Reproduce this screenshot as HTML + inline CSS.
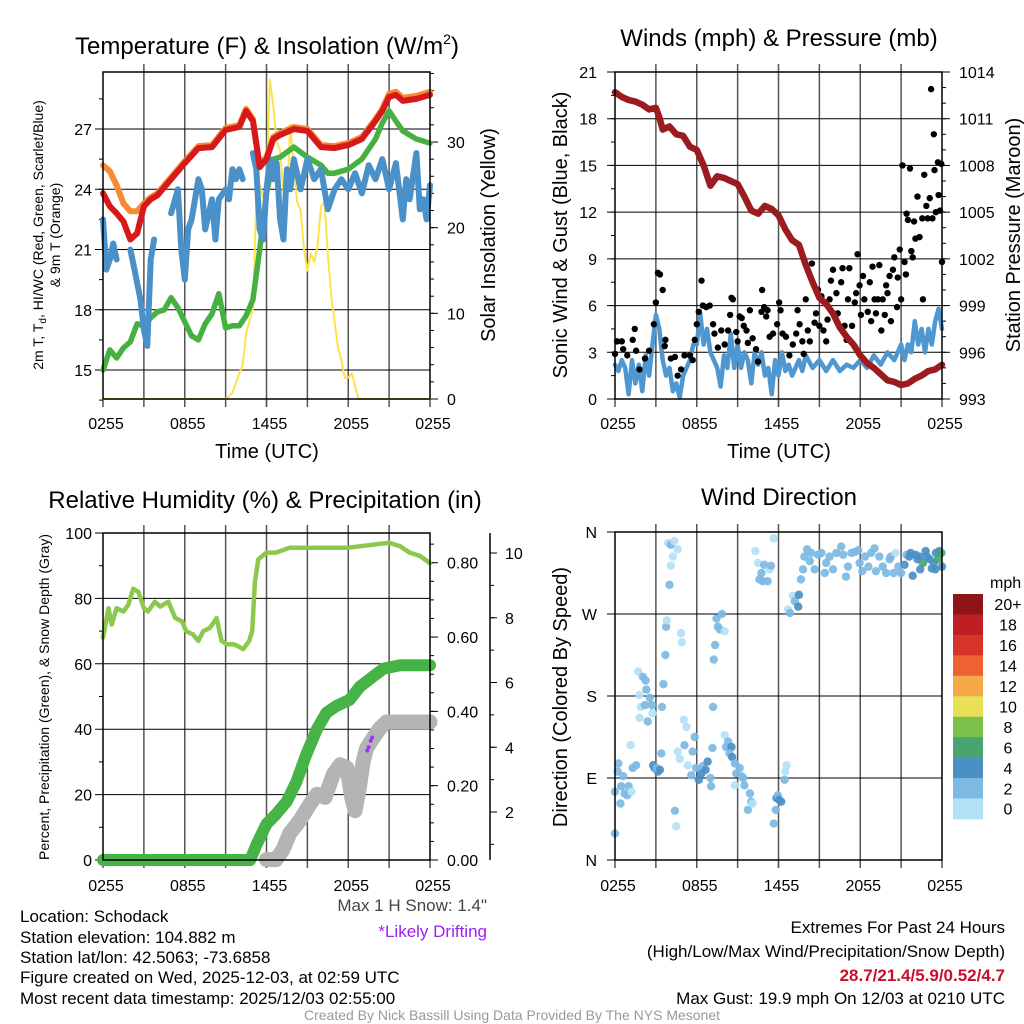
<!DOCTYPE html>
<html><head><meta charset="utf-8">
<style>
html,body{margin:0;padding:0;background:#fff;}
svg{display:block;font-family:"Liberation Sans",sans-serif;}
</style></head>
<body>
<svg id="chart" width="1024" height="1024" viewBox="0 0 1024 1024" xmlns="http://www.w3.org/2000/svg">
<rect x="0" y="0" width="1024" height="1024" fill="#fff"/>
<g id="layer"></g>
<text x="267" y="54" font-size="24" text-anchor="middle">Temperature (F) &amp; Insolation (W/m<tspan font-size="14" dy="-10">2</tspan><tspan dy="10">)</tspan></text>
<text x="779" y="46" font-size="24" text-anchor="middle">Winds (mph) &amp; Pressure (mb)</text>
<text x="265" y="508" font-size="24" text-anchor="middle">Relative Humidity (%) &amp; Precipitation (in)</text>
<text x="779" y="505" font-size="24" text-anchor="middle">Wind Direction</text>
<text x="267" y="458" font-size="20" text-anchor="middle">Time (UTC)</text>
<text x="779" y="458" font-size="20" text-anchor="middle">Time (UTC)</text>
<text transform="translate(43,235) rotate(-90)" font-size="14" text-anchor="middle">2m T, T<tspan font-size="10" dy="3">d</tspan><tspan dy="-3">, HI/WC (Red, Green, Scarlet/Blue)</tspan></text>
<text transform="translate(60,235) rotate(-90)" font-size="14" text-anchor="middle">&amp; 9m T (Orange)</text>
<text transform="translate(495,235) rotate(-90)" font-size="20" text-anchor="middle">Solar Insolation (Yellow)</text>
<text transform="translate(567,235) rotate(-90)" font-size="20" text-anchor="middle">Sonic Wind &amp; Gust (Blue, Black)</text>
<text transform="translate(1020,235) rotate(-90)" font-size="20" text-anchor="middle">Station Pressure (Maroon)</text>
<text transform="translate(49,697) rotate(-90)" font-size="14" text-anchor="middle">Percent, Precipitation (Green), &amp; Snow Depth (Gray)</text>
<text transform="translate(567,697) rotate(-90)" font-size="20" text-anchor="middle">Direction (Colored By Speed)</text>
<text x="487" y="911" font-size="17" fill="#444" text-anchor="end">Max 1 H Snow: 1.4"</text>
<text x="487" y="937" font-size="17" fill="#a020f0" text-anchor="end">*Likely Drifting</text>
<g font-size="17" fill="#000">
<text x="20" y="922">Location: Schodack</text>
<text x="20" y="943">Station elevation: 104.882 m</text>
<text x="20" y="963">Station lat/lon: 42.5063; -73.6858</text>
<text x="20" y="983">Figure created on Wed, 2025-12-03, at 02:59 UTC</text>
<text x="20" y="1004">Most recent data timestamp: 2025/12/03 02:55:00</text>
</g>
<g font-size="17" text-anchor="end">
<text x="1005" y="933">Extremes For Past 24 Hours</text>
<text x="1005" y="957">(High/Low/Max Wind/Precipitation/Snow Depth)</text>
<text x="1005" y="981" fill="#c8102e" font-weight="bold">28.7/21.4/5.9/0.52/4.7</text>
<text x="1005" y="1004">Max Gust: 19.9 mph On 12/03 at 0210 UTC</text>
</g>
<text x="512" y="1020" font-size="14" fill="#999" text-anchor="middle">Created By Nick Bassill Using Data Provided By The NYS Mesonet</text>
</svg>
<script>
// ---------- DATA (hours since 0255 UTC) ----------
const timeLabels = ["0255","0855","1455","2055","0255"];
const tempHours = [0,0.5,1,1.5,2,2.5,3,3.5,4,5,6,7,8,9,10,10.5,11,11.5,12,12.5,13,14,15,16,17,18,19,20,20.5,21,21.5,22,23,24];
const tempRed   = [23.8,23.15,22.8,22.4,21.5,21.8,23.15,23.5,23.7,24.5,25.3,26.05,26.1,26.95,27.1,27.9,27.4,25.1,25.5,26.5,26.7,27.0,26.9,26.1,26.05,26.2,26.5,27.4,27.9,28.6,28.7,28.4,28.5,28.7];
const temp9mHours = [0,0.5,1,1.5,2,2.5,3,3.5,4,5,6,7,8,9,10,10.5,11,11.5,12,12.5,13,14,15,16,17,18,19,20,20.5,21,21.5,22,23,24];
const temp9m    = [25.2,24.9,24.2,23.3,22.9,22.9,23.3,23.6,23.8,24.6,25.4,26.15,26.2,27.05,27.2,28.0,27.5,25.2,25.6,26.6,26.8,27.1,27.0,26.2,26.15,26.3,26.6,27.5,28.0,28.75,28.85,28.55,28.65,28.85];
const dewHours = [0,0.5,1,1.5,2,2.5,3,3.5,4,4.5,5,5.5,6,6.5,7,7.5,8,8.5,9,9.5,10,10.5,11,11.5,12,12.5,13,14,15,16,16.5,17,18,19,20,20.5,21,21.5,22,23,24];
const dewValues = [15.0,16.0,15.6,16.1,16.4,17.3,17.2,17.6,17.9,18.0,18.6,18.1,17.4,16.7,16.5,17.3,17.8,18.8,17.1,17.2,17.2,17.7,18.5,21.0,23.8,25.5,25.6,26.1,25.6,25.2,24.8,24.8,25.0,25.5,26.5,27.3,27.9,27.4,26.9,26.5,26.3];
const chillHours = [0,0.25,0.5,0.75,1,1.5,2,2.25,2.75,3,3.25,3.5,3.75,5,5.5,5.75,6,6.25,6.5,7,7.25,7.5,8,8.25,8.5,9,9.25,9.5,9.75,10,10.25,11,11.25,11.5,11.75,12,12.25,12.5,12.75,13,13.25,13.5,13.75,14,14.5,15,15.5,16,16.5,17,17.5,18,18.5,19,19.5,20,20.5,21,21.5,22,22.25,22.5,23,23.25,23.5,23.75,24];
const chillValues = [22.5,20,20.5,21.3,20.5,19.3,21,20.2,18.5,17,16.2,20.5,21.5,22.8,24,21,19.5,22,22.5,24.5,24,22,23.5,21.5,23.5,24,23.5,25,24.5,25,24.5,25.8,25,22,21.5,24,25.5,24.5,25.3,22.5,21.5,25,24,25.5,24,25.5,24.5,25,23,24,24.5,24,24.8,23.8,25.2,24.5,25.5,24,25.3,22.5,24.5,23.5,25.8,23,23.5,22.5,24.2];
const chillGaps = [1.25,1.75,4.5,10.5];
const solarHours = [0,9,9.5,10,10.25,10.5,11,11.25,11.5,11.75,12,12.25,12.5,12.75,13,13.25,13.5,13.75,14,14.25,14.5,14.75,15,15.25,15.5,15.75,16,16.25,16.5,16.75,17,17.25,17.5,17.75,18,18.25,18.5,18.75,24];
const solarValues = [0,0,0.7,3,4,7.7,10.5,23.3,25,23.5,25,37.3,34.2,30,29,24,23,32,27,23,22,17.5,15,17,16,18,22.5,23,17,12,9,6,4.5,2.5,2.5,3,1.5,0,0];

const presHours = [0,0.5,1,1.5,2,2.5,3,3.25,3.5,4,4.5,5,5.5,6,6.5,7,7.5,8,8.5,9,9.5,10,10.5,11,11.5,12,12.5,13,13.5,14,14.5,15,15.5,16,16.5,17,17.5,18,18.5,19,19.5,20,20.5,21,21.5,22,22.5,23,23.5,24];
const presValues = [1012.7,1012.4,1012.2,1012.1,1011.9,1011.6,1011.7,1011.1,1010.3,1010.5,1010.0,1009.9,1009.2,1009.0,1008.0,1006.7,1007.3,1007.2,1007.0,1006.8,1006.0,1005.1,1004.9,1005.4,1005.2,1004.8,1003.9,1003.2,1002.9,1001.6,1000.5,999.5,999.1,998.5,997.6,997.0,996.5,995.8,995.3,995.0,994.6,994.2,994.1,993.9,994.0,994.3,994.5,994.8,994.9,995.2];
const windHours = [0,0.25,0.5,0.75,1,1.25,1.5,1.75,2,2.25,2.5,2.75,3,3.25,3.5,3.75,4,4.25,4.5,4.75,5,5.25,5.5,5.75,6,6.25,6.5,6.75,7,7.25,7.5,7.75,8,8.25,8.5,8.75,9,9.25,9.5,9.75,10,10.25,10.5,10.75,11,11.25,11.5,11.75,12,12.25,12.5,12.75,13,13.25,13.5,13.75,14,14.5,15,15.5,16,16.5,17,17.5,18,18.5,19,19.5,20,20.5,21,21.25,21.5,21.75,22,22.25,22.5,22.75,23,23.25,23.5,23.75,24];
const windValues = [2.2,1.8,2.5,2.0,0.3,2.5,1.0,2.2,0.5,2.8,1.5,3.5,5.4,4.5,2.5,1.5,2.0,0.5,1.0,0.1,1.5,2.0,2.5,3.5,3.5,5.5,3.5,4.5,3.0,2.5,2.0,0.8,2.8,2.0,4.2,2.0,3.5,2.0,3.0,2.5,1.0,3.0,2.2,3.0,1.5,2.0,0.3,2.5,1.5,3.0,1.8,2.2,1.5,2.0,2.5,1.8,2.8,2.0,2.5,1.8,2.5,1.8,2.2,2.0,2.5,2.0,2.8,2.2,3.0,2.5,3.5,2.5,3.5,3.0,5.0,3.5,4.5,3.0,4.5,3.5,5.0,5.8,4.5];
const gustHours = [0,0.15,0.5,0.6,0.9,1.45,1.3,1.55,1.8,2.2,2.5,2.85,3.0,3.15,3.3,3.5,3.7,3.65,4.1,4.4,4.6,4.85,5.1,5.5,5.7,5.85,6.0,6.15,6.35,6.45,6.7,6.95,7.2,7.3,7.55,7.8,8.05,8.3,8.45,8.55,8.65,8.9,9.0,9.15,9.3,9.45,9.65,9.75,9.9,10.1,10.35,10.5,10.75,10.8,10.95,11.1,11.2,11.35,11.6,11.9,12.05,12.15,12.3,12.55,12.8,13.05,13.3,13.4,13.55,13.75,13.85,14.0,14.15,14.3,14.45,14.65,14.75,14.9,15.0,15.15,15.3,15.5,15.6,15.75,15.85,16.0,16.25,16.35,16.6,16.7,16.85,17.0,17.1,17.2,17.4,17.6,17.7,17.8,17.95,18.05,18.2,18.3,18.55,18.7,18.8,18.9,19.05,19.15,19.3,19.4,19.55,19.65,19.8,19.9,20.0,20.15,20.25,20.4,20.5,20.7,20.75,20.9,21.0,21.1,21.25,21.35,21.4,21.5,21.65,21.75,21.85,21.95,22.05,22.2,22.35,22.55,22.6,22.7,22.85,22.95,23.1,23.2,23.3,23.4,23.45,23.55,23.7,23.75,23.85,23.95,24.0];
const gustValues = [2.9,3.7,3.7,3.2,2.8,4.5,3.8,3.1,1.9,2.6,3.1,4.8,6.2,8.1,8.0,7.0,3.8,3.4,2.6,2.7,1.5,1.9,2.8,2.8,2.5,3.8,4.8,5.6,7.6,6.0,5.9,6.0,4.8,4.2,3.3,4.4,3.5,4.4,5.4,6.5,6.4,4.3,3.7,5.3,5.2,4.7,4.4,3.6,5.7,3.9,3.2,2.4,5.6,7.0,5.9,5.3,5.7,4.0,4.2,4.8,6.2,5.7,4.2,4.0,2.8,3.5,4.2,5.7,4.8,3.7,2.9,6.4,4.4,3.7,8.7,4.9,5.5,7.0,4.7,6.6,4.4,3.7,5.1,6.4,7.6,8.3,6.8,5.5,7.5,8.4,4.7,3.8,6.4,8.4,4.7,6.2,6.8,9.3,7.3,5.4,7.9,6.4,5.6,7.5,5.0,8.5,6.4,5.5,6.4,8.6,4.4,6.4,5.4,7.3,6.8,7.9,5.0,8.3,9.1,5.9,7.8,9.6,6.4,15.0,8.8,8.0,11.9,11.5,14.8,9.5,9.1,11.4,10.3,13.0,10.4,11.6,6.4,14.4,12.4,11.6,12.9,19.9,11.6,17.0,14.7,12.0,15.2,13.1,12.1,15.1,8.8];

const rhHours = [0,0.4,0.64,1.0,1.5,1.86,2.22,2.6,3.0,3.3,3.8,4.2,4.8,5.3,5.8,6.1,6.6,7.0,7.36,7.85,8.34,8.7,9.07,9.56,9.85,10.3,10.73,10.95,11.15,11.4,12.0,12.7,13.7,15,16.9,18,20,21,21.8,22.5,23.25,24];
const rhValues = [68,77,72,77,76,78,83,82,77,76,79,77.5,79,74,73,70,69,67,70,71,74,67,66,66,65.5,64.5,67,70,85,92,94,94,95.5,95.5,95.5,95.5,96.5,97,96,94,93,90.8];
const precipHours = [0,10.8,11.3,12,12.7,13.5,14.2,14.9,15.7,16.4,17.1,18.1,18.85,19.8,20.6,21.8,24];
const precipValues = [0,0,0.044,0.097,0.123,0.158,0.211,0.282,0.352,0.396,0.414,0.431,0.466,0.493,0.515,0.524,0.524];
const snowHours = [12,12.7,13.2,13.7,14.45,15.2,15.7,16.3,16.9,17.4,17.9,18.25,18.5,18.85,19.1,19.35,19.8,20.3,20.8,24];
const snowValues = [0.53,0.53,0.83,1.34,1.74,2.25,2.55,2.45,3.16,3.46,3.36,2.45,2.04,2.85,3.56,3.97,4.27,4.57,4.78,4.78];
const driftHours = [19.4,19.5,19.65,19.75];
const driftValues = [3.9,4.0,4.2,4.3];

const dirHours = [0,0,0.25,0.2,0.6,0.45,0.7,0.4,1.0,0.9,1.15,1.3,1.55,1.2,1.7,1.8,2.05,2.25,2.3,1.9,1.8,2.2,2.4,2.55,2.75,2.7,2.8,2.9,3.15,3.05,3.3,3.4,3.45,3.55,3.7,3.75,3.8,3.9,4.1,4.35,4.6,4.25,4.1,4.0,4.4,4.5,4.85,4.9,4.6,4.75,5.05,5.25,5.1,5.35,5.6,5.7,5.85,5.95,6.15,6.35,6.45,6.65,6.8,7.0,7.05,7.15,7.2,7.25,7.35,7.45,7.55,7.7,7.85,8.05,8.05,8.15,8.3,8.55,8.4,8.6,8.8,8.9,9.15,9.3,9.5,8.8,9.4,9.9,10.0,9.75,10.1,10.3,10.5,10.75,10.6,10.85,10.95,11.2,11.35,11.45,11.65,11.85,11.95,12.05,12.2,11.8,11.65,12.45,12.5,12.6,12.7,12.85,13.05,13.2,13.45,13.5,13.65,13.8,13.9,14.1,14.3,14.4,14.65,14.9,15.15,15.4,15.5,15.75,16.0,16.25,16.6,16.75,16.95,17.1,17.35,17.6,17.85,17.95,18.15,18.35,18.6,18.8,19.05,19.15,19.4,19.65,19.9,20.15,20.25,20.45,20.6,20.8,21.0,21.25,21.4,21.6,21.85,22.05,22.2,22.4,22.6,22.8,22.9,23.1,23.25,23.4,23.55,23.7,23.8,23.95,24.0,23.5,22.35,21.7];
const dirValues = [29,75,106,97,92,81,73,62,81,71,126,101,104,75,207,181,201,197,187,168,156,170,152,178,161,170,104,101,97,101,99,117,168,193,225,256,263,348,346,350,341,333,323,302,54,37,249,239,119,111,154,146,126,104,93,119,135,101,88,95,103,99,108,90,81,123,168,220,236,265,256,253,270,251,137,124,130,124,117,113,106,95,101,92,82,82,90,73,64,55,62,339,326,315,308,306,324,306,319,323,353,68,71,66,64,55,40,88,97,104,275,271,290,284,278,291,308,319,333,341,328,337,319,335,337,315,326,333,319,337,344,335,311,322,337,338,340,326,317,333,322,337,342,317,333,322,315,330,333,315,337,322,315,324,335,333,312,335,330,319,326,339,333,330,320,326,337,330,339,337,322,319,333,337];
const dirSpeeds = [2,2,2,2,2,2,2,2,2,2,0,2,2,0,0,0,2,2,2,0,0,2,2,2,0,2,4,4,4,2,4,2,2,2,2,2,0,0,2,0,0,0,0,2,2,0,0,0,0,0,0,0,2,0,2,2,2,2,4,4,2,4,4,2,2,2,2,2,2,2,2,2,2,0,0,2,2,4,2,4,2,2,2,2,2,0,2,2,2,2,0,0,0,2,2,2,2,2,0,2,0,4,2,4,4,2,2,2,0,0,0,2,0,2,4,4,2,2,2,2,2,2,2,2,2,2,2,2,2,2,2,2,2,2,2,2,2,2,2,2,2,2,2,2,2,2,2,2,2,2,0,2,2,4,2,4,4,4,4,4,6,4,4,4,4,4,4,6,4,6,4,4,4,4,4,4,4];
const colorbarLabels = ["20+","18","16","14","12","10","8","6","4","2","0"];
const colorbarColors = ["#8e1418","#be1e24","#d8342a","#ee6130","#f5a947","#e8e057","#7cc04a","#4aa470","#4a8fc6","#7db9e3","#b3e1f5"];

// ---------- DRAWING ----------
const NS = "http://www.w3.org/2000/svg";
const layer = document.getElementById("layer");
function mk(tag, attrs, parent) {
  const el = document.createElementNS(NS, tag);
  for (const k in attrs) el.setAttribute(k, attrs[k]);
  (parent || layer).appendChild(el);
  return el;
}
function txt(s, x, y, size, anchor, parent) {
  const t = mk("text", {x: x, y: y, "font-size": size, "text-anchor": anchor}, parent);
  t.textContent = s;
  return t;
}
function xScale(x0, x1) { return h => x0 + h * (x1 - x0) / 24; }
function linScale(v0, p0, v1, p1) { return v => p0 + (v - v0) * (p1 - p0) / (v1 - v0); }

function frame(name, x0, x1, y0, y1, xs) {
  const g = mk("g", {});
  
  
  for (let h = 3; h < 24; h += 3) {
    mk("line", {x1: xs(h), x2: xs(h), y1: y0 - 8, y2: y1 + 8, stroke: "#555", "stroke-width": 1.5}, g);
  }
  for (let h = 0; h <= 24; h += 6) {
    mk("line", {x1: xs(h), x2: xs(h), y1: y1, y2: y1 + 8, stroke: "#555", "stroke-width": 1.5}, g);
  }
  return g;
}
function xLabels(name, xs, y) {
  const g = mk("g", {});
  
  
  for (let i = 0; i < timeLabels.length; i++) {
    txt(timeLabels[i], xs(i * 6) + 3, y, 16, "middle", g);
  }
}
function border(name, x0, x1, y0, y1) {
  const r = mk("rect", {x: x0, y: y0, width: x1 - x0, height: y1 - y0, fill: "none", stroke: "#000", "stroke-width": 1.5});
  
  
}
function hGrid(name, x0, x1, ys, vals, labels, lx, minorVals) {
  const g = mk("g", {});
  
  
  for (let i = 0; i < vals.length; i++) {
    const y = ys(vals[i]);
    mk("line", {x1: x0 - 8, x2: x1, y1: y, y2: y, stroke: "#000", "stroke-width": 1}, g);
    txt(labels[i], lx, y + 6, 16, "end", g);
  }
  (minorVals || []).forEach(v => mk("line", {x1: x0 - 4, x2: x0, y1: ys(v), y2: ys(v), stroke: "#000", "stroke-width": 1}, g));
}
function rightAxis(name, ax, ys, vals, labels, minorVals) {
  const g = mk("g", {});
  
  
  for (let i = 0; i < vals.length; i++) {
    const y = ys(vals[i]);
    mk("line", {x1: ax, x2: ax + 8, y1: y, y2: y, stroke: "#000", "stroke-width": 1}, g);
    txt(labels[i], ax + 17, y + 6, 16, "start", g);
  }
  minorVals.forEach(v => mk("line", {x1: ax, x2: ax + 4, y1: ys(v), y2: ys(v), stroke: "#000", "stroke-width": 1}, g));
  return g;
}
function pathFrom(hours, vals, xs, ys, gaps) {
  let d = "";
  let pen = false;
  for (let i = 0; i < hours.length; i++) {
    let brk = false;
    if (gaps && i > 0) gaps.forEach(gp => { if (hours[i - 1] < gp && hours[i] > gp) brk = true; });
    d += ((!pen || brk) ? "M" : "L") + xs(hours[i]).toFixed(1) + "," + ys(vals[i]).toFixed(1);
    pen = true;
  }
  return d;
}
function series(name, hours, vals, xs, ys, color, width, gaps, cap) {
  const p = mk("path", {d: pathFrom(hours, vals, xs, ys, gaps), fill: "none", stroke: color, "stroke-width": width, "stroke-linejoin": "round", "stroke-linecap": cap || "round"});
  
  
  return p;
}
function range(a, b, s) { const r = []; for (let v = a; v <= b + 1e-9; v += s) r.push(+v.toFixed(3)); return r; }

// ---- Panel 1: Temperature ----
const x1s = xScale(103, 430);
const yT = linScale(27, 129, 15, 370);
const yS = linScale(0, 399, 30, 142);
frame("temp", 103, 430, 72, 399, x1s);
hGrid("temp-left", 103, 430, yT, [15,18,21,24,27], ["15","18","21","24","27"], 92, range(13.5,29.5,1.5));
rightAxis("insolation-axis", 430, yS, [0,10,20,30], ["0","10","20","30"], range(0,38,2));
series("solar-insolation-line", solarHours, solarValues, x1s, yS, "#fde24b", 2);
series("dewpoint-line", dewHours, dewValues, x1s, yT, "#46b040", 5.5);
series("wind-chill-line", chillHours, chillValues, x1s, yT, "#4a90c9", 6, chillGaps);
series("temp-9m-line", temp9mHours, temp9m, x1s, yT, "#f68b33", 6);
series("temp-2m-line", tempHours, tempRed, x1s, yT, "#d7191c", 6);
border("temp", 103, 430, 72, 399);
xLabels("temp", x1s, 429);

// ---- Panel 2: Wind & Pressure ----
const x2s = xScale(615, 942);
const yW = linScale(0, 399, 21, 72);
const yP = linScale(993, 399, 1014, 72);
frame("wind", 615, 942, 72, 399, x2s);
hGrid("wind-left", 615, 942, yW, [0,3,6,9,12,15,18,21], ["0","3","6","9","12","15","18","21"], 597, range(0,21,1.5));
rightAxis("pressure-axis", 942, yP, [993,996,999,1002,1005,1008,1011,1014], ["993","996","999","1002","1005","1008","1011","1014"], range(993,1014,1));
series("sonic-wind-line", windHours, windValues, x2s, yW, "#4f97d1", 4.5);
const gustG = mk("g", {});


for (let i = 0; i < gustHours.length; i++) {
  const c = mk("circle", {cx: x2s(gustHours[i]), cy: yW(gustValues[i]), r: 3.2, fill: "#000"}, gustG);
  
  
}
series("pressure-line", presHours, presValues, x2s, yP, "#9b1b1f", 6.5);
border("wind", 615, 942, 72, 399);
xLabels("wind", x2s, 429);

// ---- Panel 3: RH & precip ----
const x3s = xScale(103, 430);
const yR = linScale(0, 860, 100, 533);
const yPr = linScale(0, 860, 0.88, 533);
const ySn = linScale(2, 812, 10, 553);
frame("rh", 103, 430, 533, 860, x3s);
hGrid("rh-left", 103, 430, yR, [0,20,40,60,80,100], ["0","20","40","60","80","100"], 92, range(10,90,20));
rightAxis("precip-axis", 430, yPr, [0,0.2,0.4,0.6,0.8], ["0.00","0.20","0.40","0.60","0.80"], range(0,0.86,0.05));
const snowAx = mk("line", {x1: 490, x2: 490, y1: 533, y2: 860, stroke: "#000", "stroke-width": 1.5});


const snowAxG = mk("g", {});


[2,4,6,8,10].forEach(v => { mk("line", {x1: 490, x2: 497, y1: ySn(v), y2: ySn(v), stroke: "#000"}, snowAxG); txt(String(v), 505, ySn(v) + 6, 16, "start", snowAxG); });
range(1,10,1).forEach(v => mk("line", {x1: 490, x2: 494, y1: ySn(v), y2: ySn(v), stroke: "#000"}, snowAxG));
series("snow-depth-line", snowHours, snowValues, x3s, ySn, "#b4b4b4", 15);
series("precip-line", precipHours, precipValues, x3s, yPr, "#46b346", 12);
series("rh-line", rhHours, rhValues, x3s, yR, "#8cc84e", 4.5);
const driftG = mk("g", {});


for (let i = 0; i < driftHours.length; i++) {
  const c = mk("circle", {cx: x3s(driftHours[i]), cy: ySn(driftValues[i]), r: 2, fill: "#9b30ff"}, driftG);
  
  
}
border("rh", 103, 430, 533, 860);
xLabels("rh", x3s, 891);

// ---- Panel 4: Direction ----
const x4s = xScale(615, 942);
const yD = linScale(0, 860, 360, 532);
frame("direction", 615, 942, 532, 860, x4s);
hGrid("direction-left", 615, 942, yD, [0,90,180,270,360], ["N","E","S","W","N"], 597, []);
function speedColor(s) {
  const idx = Math.min(10, Math.floor(s / 2));
  return colorbarColors[10 - idx];
}
const dirG = mk("g", {});


for (let i = 0; i < dirHours.length; i++) {
  const c = mk("circle", {cx: x4s(dirHours[i]), cy: yD(dirValues[i]), r: 4.2, fill: speedColor(dirSpeeds[i]), opacity: 0.92}, dirG);
  
  
}
border("direction", 615, 942, 532, 860);
xLabels("direction", x4s, 891);

// colorbar
const cbG = mk("g", {});


const cbTop = 594, cbH = 20.45;
txt("mph", 990, 588, 16, "start", cbG);
for (let i = 0; i < colorbarLabels.length; i++) {
  const r = mk("rect", {x: 953, y: cbTop + i * cbH, width: 30, height: cbH + 0.5, fill: colorbarColors[i]}, cbG);
  
  
  txt(colorbarLabels[i], 1008, cbTop + i * cbH + cbH / 2 + 6, 16, "middle", cbG);
}
</script>
</body></html>
